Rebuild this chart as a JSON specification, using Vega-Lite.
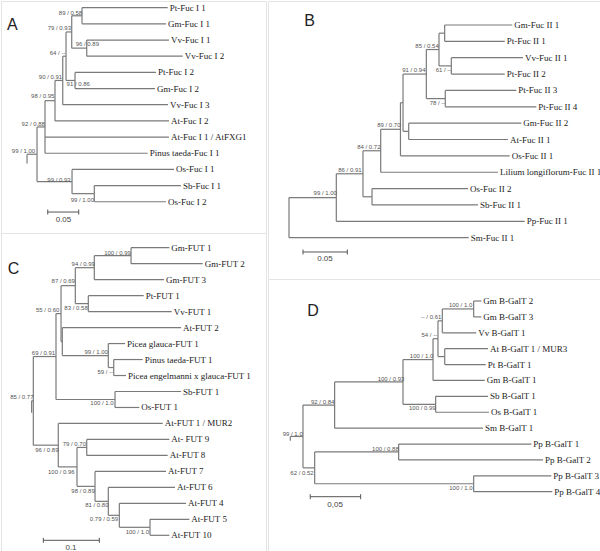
{
"$schema": "https://vega.github.io/schema/vega-lite/v6.json",
"padding": 0,
"spacing": 0,
"config": {"view": {"stroke": "#e4e4e4", "strokeWidth": 1}},
"datasets": {
"A": [
{"name":"Pt-Fuc I 1","x":0.2108,"y":1,"px":0.0726},
{"name":"Gm-Fuc I 1","x":0.2081,"y":2,"px":0.0726},
{"name":"Vv-Fuc I 1","x":0.2129,"y":3,"px":0.0802},
{"name":"Vv-Fuc I 2","x":0.2350,"y":4,"px":0.0802},
{"name":"Pt-Fuc I 2","x":0.1919,"y":5,"px":0.0613},
{"name":"Gm-Fuc I 2","x":0.1903,"y":6,"px":0.0613},
{"name":"Vv-Fuc I 3","x":0.2113,"y":7,"px":0.0415},
{"name":"At-Fuc I 2","x":0.2129,"y":8,"px":0.0290},
{"name":"At-Fuc I 1 / AtFXG1","x":0.2129,"y":9,"px":0.0129},
{"name":"Pinus taeda-Fuc I 1","x":0.1785,"y":10,"px":0.0129},
{"name":"Os-Fuc I 1","x":0.2210,"y":11,"px":0.0565},
{"name":"Sb-Fuc I 1","x":0.2323,"y":12,"px":0.0924},
{"name":"Os-Fuc I 2","x":0.2081,"y":13,"px":0.0924},
{"x":0.0726,"y":1.5,"px":0.0560,"y0":1,"y1":2},
{"x":0.0802,"y":3.5,"px":0.0560,"y0":3,"y1":4},
{"x":0.0560,"y":2.5,"px":0.0468,"y0":1.5,"y1":3.5},
{"x":0.0613,"y":5.5,"px":0.0468,"y0":5,"y1":6},
{"x":0.0468,"y":4.0,"px":0.0415,"y0":2.5,"y1":5.5},
{"x":0.0415,"y":5.5,"px":0.0290,"y0":4.0,"y1":7},
{"x":0.0290,"y":6.75,"px":0.0129,"y0":5.5,"y1":8},
{"x":0.0129,"y":8.375,"px":0,"y0":6.75,"y1":10},
{"x":0.0924,"y":12.5,"px":0.0565,"y0":12,"y1":13},
{"x":0.0565,"y":11.75,"px":0,"y0":11,"y1":12.5},
{"x":0,"y":10.0625,"px":-0.0161,"y0":8.375,"y1":11.75},
{"x":-0.0161,"y0":10.0625,"y1":10.63},
{"b":"89 / 0.58","x":0.0540,"y":1.310},
{"b":"79 / 0.93","x":0.0360,"y":2.274},
{"b":"96 / 0.89","x":0.0812,"y":3.245},
{"b":"64 / --","x":0.0331,"y":3.820},
{"b":"90 / 0.91","x":0.0218,"y":5.286},
{"b":"91 / 0.86","x":0.0665,"y":5.737},
{"b":"98 / 0.95","x":0.0092,"y":6.461},
{"b":"92 / 0.88","x":-0.0061,"y":8.174},
{"b":"99 / 1.00","x":-0.0218,"y":9.862},
{"b":"99 / 0.93","x":0.0355,"y":11.656},
{"b":"99 / 1.00","x":0.0731,"y":12.892},
{"bar":"0.05","x":0.0173,"x2":0.0673,"y":13.637,"ya":13.48,"yb":13.79,"tx":0.0427,"ty":14.148},
{"letter":"A","x":-0.0398,"y":2.039}
],
"B": [
{"name":"Gm-Fuc II 1","x":0.2520,"y":1,"px":0.1757},
{"name":"Pt-Fuc II 1","x":0.2435,"y":2,"px":0.1757},
{"name":"Vv-Fuc II 1","x":0.2641,"y":3,"px":0.1832},
{"name":"Pt-Fuc II 2","x":0.2435,"y":4,"px":0.1832},
{"name":"Pt-Fuc II 3","x":0.2565,"y":5,"px":0.1764},
{"name":"Pt-Fuc II 4","x":0.2791,"y":6,"px":0.1764},
{"name":"Gm-Fuc II 2","x":0.2622,"y":7,"px":0.1351},
{"name":"At-Fuc II 1","x":0.2472,"y":8,"px":0.1351},
{"name":"Os-Fuc II 1","x":0.2491,"y":9,"px":0.1258},
{"name":"Lilium longiflorum-Fuc II 1","x":0.2359,"y":10,"px":0.1035},
{"name":"Os-Fuc II 2","x":0.2020,"y":11,"px":0.0937},
{"name":"Sb-Fuc II 1","x":0.2133,"y":12,"px":0.0937},
{"name":"Pp-Fuc II 1","x":0.2660,"y":13,"px":0.0534},
{"name":"Sm-Fuc II 1","x":0.2028,"y":14,"px":0},
{"x":0.1757,"y":1.5,"px":0.1693,"y0":1,"y1":2},
{"x":0.1832,"y":3.5,"px":0.1693,"y0":3,"y1":4},
{"x":0.1693,"y":2.5,"px":0.1550,"y0":1.5,"y1":3.5},
{"x":0.1764,"y":5.5,"px":0.1550,"y0":5,"y1":6},
{"x":0.1550,"y":4.0,"px":0.1287,"y0":2.5,"y1":5.5},
{"x":0.1351,"y":7.5,"px":0.1287,"y0":7,"y1":8},
{"x":0.1287,"y":5.75,"px":0.1258,"y0":4.0,"y1":7.5},
{"x":0.1258,"y":7.375,"px":0.1035,"y0":5.75,"y1":9},
{"x":0.1035,"y":8.6875,"px":0.0835,"y0":7.375,"y1":10},
{"x":0.0937,"y":11.5,"px":0.0835,"y0":11,"y1":12},
{"x":0.0835,"y":10.09375,"px":0.0534,"y0":8.6875,"y1":11.5},
{"x":0.0534,"y":11.546875,"px":0,"y0":10.09375,"y1":13},
{"x":0,"y":12.7734,"y0":11.546875,"y1":14},
{"b":"85 / 0.54","x":0.1558,"y":2.284},
{"b":"61 / --","x":0.1744,"y":3.751},
{"b":"91 / 0.94","x":0.1409,"y":3.769},
{"b":"78 / --","x":0.1676,"y":5.749},
{"b":"89 / 0.70","x":0.1127,"y":7.112},
{"b":"84 / 0.72","x":0.0901,"y":8.439},
{"b":"86 / 0.91","x":0.0688,"y":9.863},
{"b":"99 / 1.00","x":0.0409,"y":11.287},
{"bar":"0.05","x":0.0158,"x2":0.0658,"y":14.875,"ya":14.722,"yb":15.028,"tx":0.0406,"ty":15.322},
{"letter":"B","x":0.0231,"y":0.737}
],
"C": [
{"name":"Gm-FUT 1","x":0.2429,"y":1,"px":0.1745},
{"name":"Gm-FUT 2","x":0.3025,"y":2,"px":0.1745},
{"name":"Gm-FUT 3","x":0.2334,"y":3,"px":0.1089},
{"name":"Pt-FUT 1","x":0.1971,"y":4,"px":0.0982},
{"name":"Vv-FUT 1","x":0.2471,"y":5,"px":0.0982},
{"name":"At-FUT 2","x":0.2638,"y":6,"px":0.0518},
{"name":"Picea glauca-FUT 1","x":0.1638,"y":7,"px":0.1339},
{"name":"Pinus taeda-FUT 1","x":0.1954,"y":8,"px":0.1436},
{"name":"Picea engelmanni x glauca-FUT 1","x":0.1655,"y":9,"px":0.1436},
{"name":"Sb-FUT 1","x":0.2638,"y":10,"px":0.1459},
{"name":"Os-FUT 1","x":0.1893,"y":11,"px":0.1459},
{"name":"At-FUT 1 / MUR2","x":0.2311,"y":12,"px":0.0446},
{"name":"At- FUT 9","x":0.2429,"y":13,"px":0.0954},
{"name":"At-FUT 8","x":0.2400,"y":14,"px":0.0954},
{"name":"At-FUT 7","x":0.2370,"y":15,"px":0.1102},
{"name":"At-FUT 6","x":0.2530,"y":16,"px":0.1339},
{"name":"At-FUT 4","x":0.2727,"y":17,"px":0.1536},
{"name":"At-FUT 5","x":0.2786,"y":18,"px":0.2084},
{"name":"At-FUT 10","x":0.2429,"y":19,"px":0.2084},
{"x":0.1745,"y":1.5,"px":0.1089,"y0":1,"y1":2},
{"x":0.1089,"y":2.25,"px":0.0750,"y0":1.5,"y1":3},
{"x":0.0982,"y":4.5,"px":0.0750,"y0":4,"y1":5},
{"x":0.0750,"y":3.375,"px":0.0495,"y0":2.25,"y1":4.5},
{"x":0.1436,"y":8.5,"px":0.1339,"y0":8,"y1":9},
{"x":0.1339,"y":7.75,"px":0.0518,"y0":7,"y1":8.5},
{"x":0.0518,"y":6.875,"px":0.0495,"y0":6,"y1":7.75},
{"x":0.0495,"y":5.125,"px":0.0405,"y0":3.375,"y1":6.875},
{"x":0.1459,"y":10.5,"px":0.0405,"y0":10,"y1":11},
{"x":0.0405,"y":7.8125,"px":0,"y0":5.125,"y1":10.5},
{"x":0.2084,"y":18.5,"px":0.1536,"y0":18,"y1":19},
{"x":0.1536,"y":17.75,"px":0.1339,"y0":17,"y1":18.5},
{"x":0.1339,"y":16.875,"px":0.1102,"y0":16,"y1":17.75},
{"x":0.1102,"y":15.9375,"px":0.0780,"y0":15,"y1":16.875},
{"x":0.0954,"y":13.5,"px":0.0780,"y0":13,"y1":14},
{"x":0.0780,"y":14.71875,"px":0.0446,"y0":13.5,"y1":15.9375},
{"x":0.0446,"y":13.359375,"px":0,"y0":12,"y1":14.71875},
{"x":0,"y":10.5859,"px":-0.003,"y0":7.8125,"y1":13.359375},
{"x":-0.003,"y0":10.5859,"y1":11.33},
{"b":"100 / 0.99","x":0.1504,"y":1.313},
{"b":"94 / 0.99","x":0.0891,"y":2.039},
{"b":"87 / 0.69","x":0.0534,"y":3.084},
{"b":"83 / 0.58","x":0.0763,"y":4.755},
{"b":"55 / 0.60","x":0.0257,"y":4.899},
{"b":"99 / 1.00","x":0.1123,"y":7.528},
{"b":"59 / --","x":0.1284,"y":8.761},
{"b":"69 / 0.91","x":0.0182,"y":7.609},
{"b":"100 / 1.0","x":0.1227,"y":10.738},
{"b":"85 / 0.77","x":-0.0205,"y":10.325},
{"b":"96 / 0.89","x":0.0241,"y":13.680},
{"b":"79 / 0.70","x":0.0732,"y":13.305},
{"b":"100 / 0.96","x":0.0500,"y":15.019},
{"b":"98 / 0.89","x":0.0888,"y":16.227},
{"b":"81 / 0.80","x":0.1134,"y":17.104},
{"b":"0.79 / 0.59","x":0.1262,"y":17.999},
{"b":"100 / 1.0","x":0.1857,"y":18.793},
{"bar":"0.1","x":0.0179,"x2":0.1179,"y":19.313,"ya":19.157,"yb":19.469,"tx":0.0673,"ty":19.776},
{"letter":"C","x":-0.0354,"y":2.333}
],
"D": [
{"name":"Gm B-GalT 2","x":0.1769,"y":1,"px":0.1693},
{"name":"Gm B-GalT 3","x":0.1769,"y":2,"px":0.1693},
{"name":"Vv B-GalT 1","x":0.1719,"y":3,"px":0.1382},
{"name":"At B-GalT 1 / MUR3","x":0.1835,"y":4,"px":0.1406},
{"name":"Pt B-GalT 1","x":0.1813,"y":5,"px":0.1406},
{"name":"Gm B-GalT 1","x":0.1803,"y":6,"px":0.1290},
{"name":"Sb B-GalT 1","x":0.1835,"y":7,"px":0.1316},
{"name":"Os B-GalT 1","x":0.1845,"y":8,"px":0.1316},
{"name":"Sm B-GalT 1","x":0.1786,"y":9,"px":0.0314},
{"name":"Pp B-GalT 1","x":0.2265,"y":10,"px":0.0949},
{"name":"Pp B-GalT 2","x":0.2381,"y":11,"px":0.0949},
{"name":"Pp B-GalT 3","x":0.2463,"y":12,"px":0.1693},
{"name":"Pp B-GalT 4","x":0.2473,"y":13,"px":0.1693},
{"x":0.1693,"y":1.5,"px":0.1382,"y0":1,"y1":2},
{"x":0.1382,"y":2.25,"px":0.1339,"y0":1.5,"y1":3},
{"x":0.1406,"y":4.5,"px":0.1339,"y0":4,"y1":5},
{"x":0.1339,"y":3.375,"px":0.1290,"y0":2.25,"y1":4.5},
{"x":0.1290,"y":4.6875,"px":0.0992,"y0":3.375,"y1":6},
{"x":0.1316,"y":7.5,"px":0.0992,"y0":7,"y1":8},
{"x":0.0992,"y":6.09375,"px":0.0314,"y0":4.6875,"y1":7.5},
{"x":0.0314,"y":7.546875,"px":0,"y0":6.09375,"y1":9},
{"x":0.0949,"y":10.5,"px":0.0116,"y0":10,"y1":11},
{"x":0.1693,"y":12.5,"px":0.0116,"y0":12,"y1":13},
{"x":0.0116,"y":11.5,"px":0,"y0":10.5,"y1":12.5},
{"x":0,"y":9.5234,"px":-0.0126,"y0":7.546875,"y1":11.5},
{"x":-0.0126,"y0":9.5234,"y1":9.80},
{"b":"100 / 1.0","x":0.1563,"y":1.271},
{"b":"-- / 0.61","x":0.1270,"y":1.988},
{"b":"54 / --","x":0.1253,"y":3.158},
{"b":"100 / 1.0","x":0.1176,"y":4.461},
{"b":"100 / 0.93","x":0.0873,"y":5.927},
{"b":"100 / 0.99","x":0.1184,"y":7.714},
{"b":"92 / 0.84","x":0.0195,"y":7.355},
{"b":"100 / 0.88","x":0.0818,"y":10.332},
{"b":"100 / 1.0","x":0.1567,"y":12.748},
{"b":"62 / 0.52","x":-0.0010,"y":11.804},
{"b":"99 / 1.0","x":-0.0102,"y":9.388},
{"bar":"0,05","x":0.0072,"x2":0.0572,"y":13.314,"ya":13.157,"yb":13.471,"tx":0.0319,"ty":13.855},
{"letter":"D","x":0.0099,"y":1.629}
]
},
"hconcat": [
{"vconcat": [
{"width":265,"height":232,"data":{"name":"A"},"layer":[
{"transform":[{"filter":"isValid(datum.px)"}],"mark":{"type":"rule","color":"#7a7a7a","strokeWidth":1.2},"encoding":{"x":{"field":"px","type":"quantitative","scale":{"domain":[-0.0581,0.3694],"nice":false,"zero":false},"axis":null},"x2":{"field":"x"},"y":{"field":"y","type":"quantitative","scale":{"domain":[0.5857,14.933],"nice":false,"zero":false,"reverse":true},"axis":null}}},
{"transform":[{"filter":"isValid(datum.y0)"}],"mark":{"type":"rule","color":"#7a7a7a","strokeWidth":1.2},"encoding":{"x":{"field":"x","type":"quantitative","scale":{"domain":[-0.0581,0.3694],"nice":false,"zero":false},"axis":null},"y":{"field":"y0","type":"quantitative","scale":{"domain":[0.5857,14.933],"nice":false,"zero":false,"reverse":true},"axis":null},"y2":{"field":"y1"}}},
{"transform":[{"filter":"isValid(datum.name)"}],"mark":{"type":"text","align":"left","baseline":"middle","dx":2,"font":"Liberation Serif","fontSize":9,"color":"#222"},"encoding":{"x":{"field":"x","type":"quantitative","scale":{"domain":[-0.0581,0.3694],"nice":false,"zero":false},"axis":null},"y":{"field":"y","type":"quantitative","scale":{"domain":[0.5857,14.933],"nice":false,"zero":false,"reverse":true},"axis":null},"text":{"field":"name"}}},
{"transform":[{"filter":"isValid(datum.b)"}],"mark":{"type":"text","align":"center","baseline":"middle","font":"Liberation Sans","fontSize":6,"color":"#555"},"encoding":{"x":{"field":"x","type":"quantitative","scale":{"domain":[-0.0581,0.3694],"nice":false,"zero":false},"axis":null},"y":{"field":"y","type":"quantitative","scale":{"domain":[0.5857,14.933],"nice":false,"zero":false,"reverse":true},"axis":null},"text":{"field":"b"}}},
{"transform":[{"filter":"isValid(datum.bar)"}],"mark":{"type":"rule","color":"#555","strokeWidth":1},"encoding":{"x":{"field":"x","type":"quantitative","scale":{"domain":[-0.0581,0.3694],"nice":false,"zero":false},"axis":null},"x2":{"field":"x2"},"y":{"field":"y","type":"quantitative","scale":{"domain":[0.5857,14.933],"nice":false,"zero":false,"reverse":true},"axis":null}}},
{"transform":[{"filter":"isValid(datum.bar)"}],"mark":{"type":"rule","color":"#555","strokeWidth":1},"encoding":{"x":{"field":"x","type":"quantitative","scale":{"domain":[-0.0581,0.3694],"nice":false,"zero":false},"axis":null},"y":{"field":"ya","type":"quantitative","scale":{"domain":[0.5857,14.933],"nice":false,"zero":false,"reverse":true},"axis":null},"y2":{"field":"yb"}}},
{"transform":[{"filter":"isValid(datum.bar)"}],"mark":{"type":"rule","color":"#555","strokeWidth":1},"encoding":{"x":{"field":"x2","type":"quantitative","scale":{"domain":[-0.0581,0.3694],"nice":false,"zero":false},"axis":null},"y":{"field":"ya","type":"quantitative","scale":{"domain":[0.5857,14.933],"nice":false,"zero":false,"reverse":true},"axis":null},"y2":{"field":"yb"}}},
{"transform":[{"filter":"isValid(datum.bar)"}],"mark":{"type":"text","align":"center","baseline":"middle","font":"Liberation Sans","fontSize":8,"color":"#444"},"encoding":{"x":{"field":"tx","type":"quantitative","scale":{"domain":[-0.0581,0.3694],"nice":false,"zero":false},"axis":null},"y":{"field":"ty","type":"quantitative","scale":{"domain":[0.5857,14.933],"nice":false,"zero":false,"reverse":true},"axis":null},"text":{"field":"bar"}}},
{"transform":[{"filter":"isValid(datum.letter)"}],"mark":{"type":"text","align":"center","baseline":"middle","font":"Liberation Sans","fontSize":16,"color":"#222"},"encoding":{"x":{"field":"x","type":"quantitative","scale":{"domain":[-0.0581,0.3694],"nice":false,"zero":false},"axis":null},"y":{"field":"y","type":"quantitative","scale":{"domain":[0.5857,14.933],"nice":false,"zero":false,"reverse":true},"axis":null},"text":{"field":"letter"}}}
]},
{"width":265,"height":319,"data":{"name":"C"},"layer":[
{"transform":[{"filter":"isValid(datum.px)"}],"mark":{"type":"rule","color":"#7a7a7a","strokeWidth":1.2},"encoding":{"x":{"field":"px","type":"quantitative","scale":{"domain":[-0.0577,0.4155],"nice":false,"zero":false},"axis":null},"x2":{"field":"x"},"y":{"field":"y","type":"quantitative","scale":{"domain":[0.080,20.045],"nice":false,"zero":false,"reverse":true},"axis":null}}},
{"transform":[{"filter":"isValid(datum.y0)"}],"mark":{"type":"rule","color":"#7a7a7a","strokeWidth":1.2},"encoding":{"x":{"field":"x","type":"quantitative","scale":{"domain":[-0.0577,0.4155],"nice":false,"zero":false},"axis":null},"y":{"field":"y0","type":"quantitative","scale":{"domain":[0.080,20.045],"nice":false,"zero":false,"reverse":true},"axis":null},"y2":{"field":"y1"}}},
{"transform":[{"filter":"isValid(datum.name)"}],"mark":{"type":"text","align":"left","baseline":"middle","dx":2,"font":"Liberation Serif","fontSize":9,"color":"#222"},"encoding":{"x":{"field":"x","type":"quantitative","scale":{"domain":[-0.0577,0.4155],"nice":false,"zero":false},"axis":null},"y":{"field":"y","type":"quantitative","scale":{"domain":[0.080,20.045],"nice":false,"zero":false,"reverse":true},"axis":null},"text":{"field":"name"}}},
{"transform":[{"filter":"isValid(datum.b)"}],"mark":{"type":"text","align":"center","baseline":"middle","font":"Liberation Sans","fontSize":6,"color":"#555"},"encoding":{"x":{"field":"x","type":"quantitative","scale":{"domain":[-0.0577,0.4155],"nice":false,"zero":false},"axis":null},"y":{"field":"y","type":"quantitative","scale":{"domain":[0.080,20.045],"nice":false,"zero":false,"reverse":true},"axis":null},"text":{"field":"b"}}},
{"transform":[{"filter":"isValid(datum.bar)"}],"mark":{"type":"rule","color":"#555","strokeWidth":1},"encoding":{"x":{"field":"x","type":"quantitative","scale":{"domain":[-0.0577,0.4155],"nice":false,"zero":false},"axis":null},"x2":{"field":"x2"},"y":{"field":"y","type":"quantitative","scale":{"domain":[0.080,20.045],"nice":false,"zero":false,"reverse":true},"axis":null}}},
{"transform":[{"filter":"isValid(datum.bar)"}],"mark":{"type":"rule","color":"#555","strokeWidth":1},"encoding":{"x":{"field":"x","type":"quantitative","scale":{"domain":[-0.0577,0.4155],"nice":false,"zero":false},"axis":null},"y":{"field":"ya","type":"quantitative","scale":{"domain":[0.080,20.045],"nice":false,"zero":false,"reverse":true},"axis":null},"y2":{"field":"yb"}}},
{"transform":[{"filter":"isValid(datum.bar)"}],"mark":{"type":"rule","color":"#555","strokeWidth":1},"encoding":{"x":{"field":"x2","type":"quantitative","scale":{"domain":[-0.0577,0.4155],"nice":false,"zero":false},"axis":null},"y":{"field":"ya","type":"quantitative","scale":{"domain":[0.080,20.045],"nice":false,"zero":false,"reverse":true},"axis":null},"y2":{"field":"yb"}}},
{"transform":[{"filter":"isValid(datum.bar)"}],"mark":{"type":"text","align":"center","baseline":"middle","font":"Liberation Sans","fontSize":8,"color":"#444"},"encoding":{"x":{"field":"tx","type":"quantitative","scale":{"domain":[-0.0577,0.4155],"nice":false,"zero":false},"axis":null},"y":{"field":"ty","type":"quantitative","scale":{"domain":[0.080,20.045],"nice":false,"zero":false,"reverse":true},"axis":null},"text":{"field":"bar"}}},
{"transform":[{"filter":"isValid(datum.letter)"}],"mark":{"type":"text","align":"center","baseline":"middle","font":"Liberation Sans","fontSize":16,"color":"#222"},"encoding":{"x":{"field":"x","type":"quantitative","scale":{"domain":[-0.0577,0.4155],"nice":false,"zero":false},"axis":null},"y":{"field":"y","type":"quantitative","scale":{"domain":[0.080,20.045],"nice":false,"zero":false,"reverse":true},"axis":null},"text":{"field":"letter"}}}
]}
], "spacing": 0, "bounds": "flush"},
{"vconcat": [
{"width":335,"height":278,"data":{"name":"B"},"layer":[
{"transform":[{"filter":"isValid(datum.px)"}],"mark":{"type":"rule","color":"#7a7a7a","strokeWidth":1.2},"encoding":{"x":{"field":"px","type":"quantitative","scale":{"domain":[-0.0237,0.3544],"nice":false,"zero":false},"axis":null},"x2":{"field":"x"},"y":{"field":"y","type":"quantitative","scale":{"domain":[-0.467,16.526],"nice":false,"zero":false,"reverse":true},"axis":null}}},
{"transform":[{"filter":"isValid(datum.y0)"}],"mark":{"type":"rule","color":"#7a7a7a","strokeWidth":1.2},"encoding":{"x":{"field":"x","type":"quantitative","scale":{"domain":[-0.0237,0.3544],"nice":false,"zero":false},"axis":null},"y":{"field":"y0","type":"quantitative","scale":{"domain":[-0.467,16.526],"nice":false,"zero":false,"reverse":true},"axis":null},"y2":{"field":"y1"}}},
{"transform":[{"filter":"isValid(datum.name)"}],"mark":{"type":"text","align":"left","baseline":"middle","dx":2,"font":"Liberation Serif","fontSize":9,"color":"#222"},"encoding":{"x":{"field":"x","type":"quantitative","scale":{"domain":[-0.0237,0.3544],"nice":false,"zero":false},"axis":null},"y":{"field":"y","type":"quantitative","scale":{"domain":[-0.467,16.526],"nice":false,"zero":false,"reverse":true},"axis":null},"text":{"field":"name"}}},
{"transform":[{"filter":"isValid(datum.b)"}],"mark":{"type":"text","align":"center","baseline":"middle","font":"Liberation Sans","fontSize":6,"color":"#555"},"encoding":{"x":{"field":"x","type":"quantitative","scale":{"domain":[-0.0237,0.3544],"nice":false,"zero":false},"axis":null},"y":{"field":"y","type":"quantitative","scale":{"domain":[-0.467,16.526],"nice":false,"zero":false,"reverse":true},"axis":null},"text":{"field":"b"}}},
{"transform":[{"filter":"isValid(datum.bar)"}],"mark":{"type":"rule","color":"#555","strokeWidth":1},"encoding":{"x":{"field":"x","type":"quantitative","scale":{"domain":[-0.0237,0.3544],"nice":false,"zero":false},"axis":null},"x2":{"field":"x2"},"y":{"field":"y","type":"quantitative","scale":{"domain":[-0.467,16.526],"nice":false,"zero":false,"reverse":true},"axis":null}}},
{"transform":[{"filter":"isValid(datum.bar)"}],"mark":{"type":"rule","color":"#555","strokeWidth":1},"encoding":{"x":{"field":"x","type":"quantitative","scale":{"domain":[-0.0237,0.3544],"nice":false,"zero":false},"axis":null},"y":{"field":"ya","type":"quantitative","scale":{"domain":[-0.467,16.526],"nice":false,"zero":false,"reverse":true},"axis":null},"y2":{"field":"yb"}}},
{"transform":[{"filter":"isValid(datum.bar)"}],"mark":{"type":"rule","color":"#555","strokeWidth":1},"encoding":{"x":{"field":"x2","type":"quantitative","scale":{"domain":[-0.0237,0.3544],"nice":false,"zero":false},"axis":null},"y":{"field":"ya","type":"quantitative","scale":{"domain":[-0.467,16.526],"nice":false,"zero":false,"reverse":true},"axis":null},"y2":{"field":"yb"}}},
{"transform":[{"filter":"isValid(datum.bar)"}],"mark":{"type":"text","align":"center","baseline":"middle","font":"Liberation Sans","fontSize":8,"color":"#444"},"encoding":{"x":{"field":"tx","type":"quantitative","scale":{"domain":[-0.0237,0.3544],"nice":false,"zero":false},"axis":null},"y":{"field":"ty","type":"quantitative","scale":{"domain":[-0.467,16.526],"nice":false,"zero":false,"reverse":true},"axis":null},"text":{"field":"bar"}}},
{"transform":[{"filter":"isValid(datum.letter)"}],"mark":{"type":"text","align":"center","baseline":"middle","font":"Liberation Sans","fontSize":16,"color":"#222"},"encoding":{"x":{"field":"x","type":"quantitative","scale":{"domain":[-0.0237,0.3544],"nice":false,"zero":false},"axis":null},"y":{"field":"y","type":"quantitative","scale":{"domain":[-0.467,16.526],"nice":false,"zero":false,"reverse":true},"axis":null},"text":{"field":"letter"}}}
]},
{"width":335,"height":273,"data":{"name":"D"},"layer":[
{"transform":[{"filter":"isValid(datum.px)"}],"mark":{"type":"rule","color":"#7a7a7a","strokeWidth":1.2},"encoding":{"x":{"field":"px","type":"quantitative","scale":{"domain":[-0.0347,0.2976],"nice":false,"zero":false},"axis":null},"x2":{"field":"x"},"y":{"field":"y","type":"quantitative","scale":{"domain":[-0.384,16.794],"nice":false,"zero":false,"reverse":true},"axis":null}}},
{"transform":[{"filter":"isValid(datum.y0)"}],"mark":{"type":"rule","color":"#7a7a7a","strokeWidth":1.2},"encoding":{"x":{"field":"x","type":"quantitative","scale":{"domain":[-0.0347,0.2976],"nice":false,"zero":false},"axis":null},"y":{"field":"y0","type":"quantitative","scale":{"domain":[-0.384,16.794],"nice":false,"zero":false,"reverse":true},"axis":null},"y2":{"field":"y1"}}},
{"transform":[{"filter":"isValid(datum.name)"}],"mark":{"type":"text","align":"left","baseline":"middle","dx":2,"font":"Liberation Serif","fontSize":9,"color":"#222"},"encoding":{"x":{"field":"x","type":"quantitative","scale":{"domain":[-0.0347,0.2976],"nice":false,"zero":false},"axis":null},"y":{"field":"y","type":"quantitative","scale":{"domain":[-0.384,16.794],"nice":false,"zero":false,"reverse":true},"axis":null},"text":{"field":"name"}}},
{"transform":[{"filter":"isValid(datum.b)"}],"mark":{"type":"text","align":"center","baseline":"middle","font":"Liberation Sans","fontSize":6,"color":"#555"},"encoding":{"x":{"field":"x","type":"quantitative","scale":{"domain":[-0.0347,0.2976],"nice":false,"zero":false},"axis":null},"y":{"field":"y","type":"quantitative","scale":{"domain":[-0.384,16.794],"nice":false,"zero":false,"reverse":true},"axis":null},"text":{"field":"b"}}},
{"transform":[{"filter":"isValid(datum.bar)"}],"mark":{"type":"rule","color":"#555","strokeWidth":1},"encoding":{"x":{"field":"x","type":"quantitative","scale":{"domain":[-0.0347,0.2976],"nice":false,"zero":false},"axis":null},"x2":{"field":"x2"},"y":{"field":"y","type":"quantitative","scale":{"domain":[-0.384,16.794],"nice":false,"zero":false,"reverse":true},"axis":null}}},
{"transform":[{"filter":"isValid(datum.bar)"}],"mark":{"type":"rule","color":"#555","strokeWidth":1},"encoding":{"x":{"field":"x","type":"quantitative","scale":{"domain":[-0.0347,0.2976],"nice":false,"zero":false},"axis":null},"y":{"field":"ya","type":"quantitative","scale":{"domain":[-0.384,16.794],"nice":false,"zero":false,"reverse":true},"axis":null},"y2":{"field":"yb"}}},
{"transform":[{"filter":"isValid(datum.bar)"}],"mark":{"type":"rule","color":"#555","strokeWidth":1},"encoding":{"x":{"field":"x2","type":"quantitative","scale":{"domain":[-0.0347,0.2976],"nice":false,"zero":false},"axis":null},"y":{"field":"ya","type":"quantitative","scale":{"domain":[-0.384,16.794],"nice":false,"zero":false,"reverse":true},"axis":null},"y2":{"field":"yb"}}},
{"transform":[{"filter":"isValid(datum.bar)"}],"mark":{"type":"text","align":"center","baseline":"middle","font":"Liberation Sans","fontSize":8,"color":"#444"},"encoding":{"x":{"field":"tx","type":"quantitative","scale":{"domain":[-0.0347,0.2976],"nice":false,"zero":false},"axis":null},"y":{"field":"ty","type":"quantitative","scale":{"domain":[-0.384,16.794],"nice":false,"zero":false,"reverse":true},"axis":null},"text":{"field":"bar"}}},
{"transform":[{"filter":"isValid(datum.letter)"}],"mark":{"type":"text","align":"center","baseline":"middle","font":"Liberation Sans","fontSize":16,"color":"#222"},"encoding":{"x":{"field":"x","type":"quantitative","scale":{"domain":[-0.0347,0.2976],"nice":false,"zero":false},"axis":null},"y":{"field":"y","type":"quantitative","scale":{"domain":[-0.384,16.794],"nice":false,"zero":false,"reverse":true},"axis":null},"text":{"field":"letter"}}}
]}
], "spacing": 0, "bounds": "flush"}
]
}
